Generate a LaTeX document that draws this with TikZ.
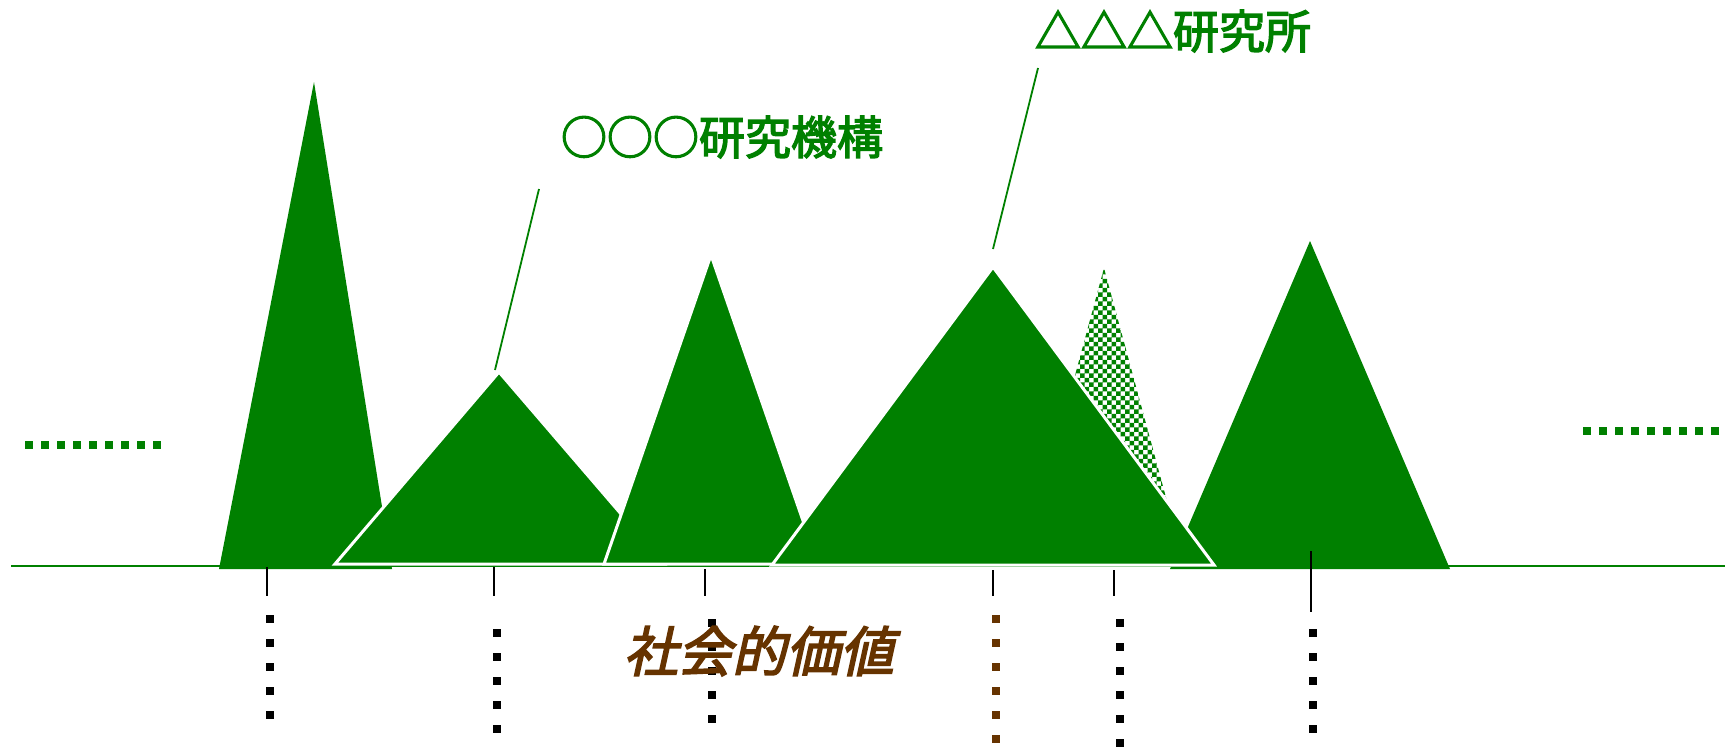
\documentclass[tikz,border=0pt]{standalone}
\usepackage{fontspec}
\newfontfamily\cjk[FakeBold=3]{Noto Sans CJK JP}
\newfontfamily\cjkbi[FakeSlant=0.22,FakeBold=3]{Noto Sans CJK JP}
\usetikzlibrary{patterns}
\definecolor{tgreen}{RGB}{0,128,0}
\definecolor{tbrown}{RGB}{102,51,0}
\pgfdeclarepatternformonly{bigcheck}{\pgfqpoint{-0.1pt}{-0.1pt}}{\pgfqpoint{9.1pt}{9.1pt}}{\pgfqpoint{9pt}{9pt}}{%
  \pgfpathrectangle{\pgfpointorigin}{\pgfqpoint{4.5pt}{4.5pt}}%
  \pgfpathrectangle{\pgfqpoint{4.5pt}{4.5pt}}{\pgfqpoint{4.5pt}{4.5pt}}%
  \pgfusepath{fill}}
\begin{document}
\begin{tikzpicture}[x=1pt,y=-1pt,
  tri/.style={fill=tgreen},
  trio/.style={fill=tgreen,draw=white,line width=3pt,line join=miter},
  checktri/.style={pattern=bigcheck,pattern color=tgreen},
  tickline/.style={draw=black,line width=2pt},
  leader/.style={draw=tgreen,line width=1.8pt},
  sqdots/.style={line width=8pt,dash pattern=on 8pt off 16pt},
  hdots/.style={draw=tgreen,line width=8pt,dash pattern=on 8pt off 8pt},
  lab/.style={font=\cjk\fontsize{46}{50}\selectfont,text=tgreen,inner sep=0pt},
  sv/.style={font=\cjkbi\fontsize{54}{58}\selectfont,text=tbrown,inner sep=0pt}]
\useasboundingbox (0,0) rectangle (1725,747);
% baseline
\coordinate (bl0) at (11,566);
\coordinate (bl1) at (1725,566);
\draw[tgreen,line width=1.8pt] (bl0) -- (bl1);
% horizontal green dotted
\coordinate (hl0) at (25,445); \coordinate (hl1) at (161,445);
\draw[hdots] (hl0) -- (hl1);
\coordinate (hr0) at (1583,431); \coordinate (hr1) at (1719,431);
\draw[hdots] (hr0) -- (hr1);
% triangles
\fill[tri] (314,82) -- (219,569) -- (392,569) -- cycle;
\filldraw[trio] (499,372) -- (335,564) -- (664,564) -- cycle;
\filldraw[trio] (711,255) -- (604,564) -- (818,564) -- cycle;
\fill[checktri] (1104,268) -- (1024,564) -- (1184,564) -- cycle;
\fill[tri] (1310,241) -- (1170,569) -- (1450,569) -- cycle;
\filldraw[trio] (993,267) -- (772,565) -- (1214,565) -- cycle;
% leaders
\coordinate (l1a) at (539,189); \coordinate (l1b) at (495,370);
\draw[leader] (l1a) -- (l1b);
\coordinate (l2a) at (1038,68); \coordinate (l2b) at (993,249);
\draw[leader] (l2a) -- (l2b);
% ticks
\foreach \x/\ya/\yb in {267/567/596, 494/567/596, 705/569/596, 993/570/596, 1114/570/596, 1311/551/612}{
  \draw[tickline] (\x,\ya) -- (\x,\yb);
}
% vertical dots
\draw[sqdots,black] (270,615) -- (270,723);
\draw[sqdots,black] (497,629) -- (497,737);
\draw[sqdots,black] (712,619) -- (712,727);
\draw[sqdots,tbrown] (996,615) -- (996,747);
\draw[sqdots,black] (1120,619) -- (1120,747);
\draw[sqdots,black] (1313,629) -- (1313,737);
% labels
\node[lab] (lab1) at (722,137) {○○○研究機構};
\node[lab] (lab2) at (1173,31) {△△△研究所};
\node[sv] (value) at (759,651) {社会的価値};
\end{tikzpicture}
\end{document}
